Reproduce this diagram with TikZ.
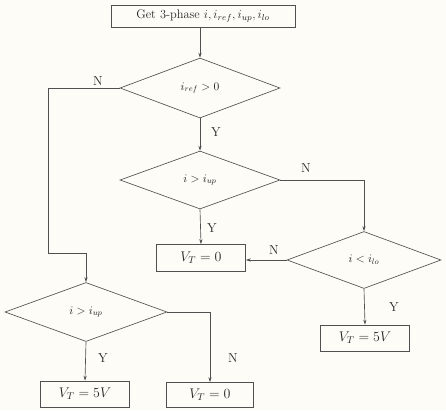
\RequirePackage{fix-cm}
\documentclass[tikz,border=0pt]{standalone}
\usetikzlibrary{shapes.geometric,arrows.meta}
\definecolor{ln}{RGB}{80,80,80}
\definecolor{bg}{RGB}{253,252,247}
\begin{document}
\begin{tikzpicture}[x=1pt,y=-1pt,
  every node/.style={text=black!85},
  box/.style={draw=ln,line width=0.65pt,inner sep=0pt,minimum width=#1,minimum height=26pt,font=\fontsize{14}{16}\selectfont},
  dec/.style={draw=ln,line width=0.65pt,diamond,inner sep=0pt,minimum width=160pt,minimum height=58pt,font=\fontsize{11.5}{13}\selectfont},
  lab/.style={font=\fontsize{13}{15}\selectfont},
  arr/.style={draw=ln,line width=0.65pt,-{Stealth[length=5pt,width=3.2pt]}}]
\fill[bg] (0,0) rectangle (446,410);
\useasboundingbox (0,0) rectangle (446,410);
\node[box=184pt,minimum height=22pt,font=\fontsize{12.4}{14}\selectfont] (b0) at (203,16) {Get 3-phase $i, i_{ref}, i_{up}, i_{lo}$};
\node[dec,minimum height=60pt] (d1) at (200,88) {$i_{ref}>0$};
\node[dec] (d2) at (200,180) {$i>i_{up}$};
\node[dec,minimum width=154pt,minimum height=57pt] (d4) at (364,260) {$i<i_{lo}$};
\node[dec,minimum width=162pt,minimum height=59pt] (d3) at (86,312) {$i>i_{up}$};
\node[box=89pt,minimum height=27pt] (b1) at (201,258) {$V_T=0$};
\node[box=89pt] (b2) at (365,338) {$V_T=5V$};
\node[box=89pt] (b3) at (85,394) {$V_T=5V$};
\node[box=87pt,minimum height=25pt] (b4) at (210,395) {$V_T=0$};
\coordinate (c1) at (48,253);
\path[arr] (d1.north |- b0.south) -- (d1.north);
\path[arr] (d1.south) -- (d2.north);
\path[arr] (d2.south) -- (b1.north);
\path[arr] (d2.east) -| (d4.north);
\path[arr] (d4.west) -- (d4.west -| b1.east);
\path[arr] (d4.south) -- (b2.north);
\path[arr] (d1.west) -- (c1 |- d1.west) -- (c1) -| (d3.north);
\path[arr] (d3.south) -- (b3.north);
\path[arr] (d3.east) -| (b4.north);
\node[lab] (n1) at (98,81) {N};
\node[lab] (y1) at (216,132) {Y};
\node[lab] (n2) at (306,168) {N};
\node[lab] (y2) at (212,228) {Y};
\node[lab] (n3) at (274,250) {N};
\node[lab] (y3) at (394,307) {Y};
\node[lab] (y4) at (103,358) {Y};
\node[lab] (n4) at (233,358) {N};
\end{tikzpicture}
\end{document}
